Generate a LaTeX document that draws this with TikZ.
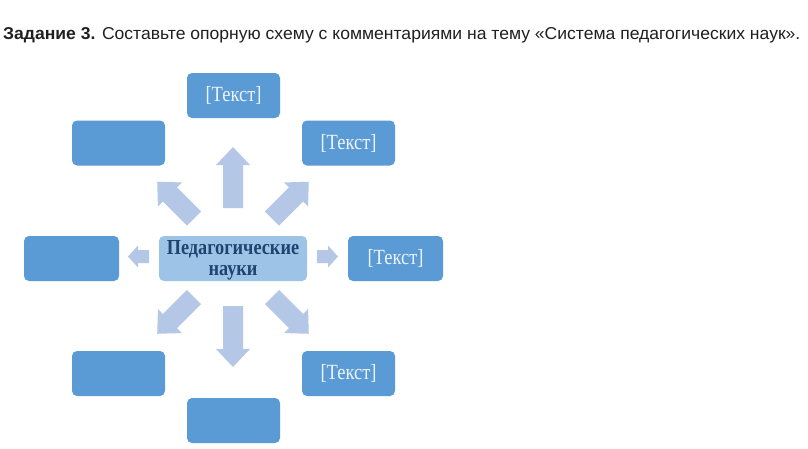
\documentclass[tikz,border=0pt]{standalone}
\usepackage{graphicx}
\usepackage{fontspec}
\setmainfont{Liberation Serif}
\newfontfamily\titlefont{Liberation Sans}
\definecolor{boxblue}{HTML}{5B9BD5}
\definecolor{centerblue}{HTML}{9DC3E6}
\definecolor{arrblue}{HTML}{B4C7E7}
\definecolor{centertext}{HTML}{1F4470}
\definecolor{boxtext}{HTML}{EEF4FB}
\definecolor{titlecol}{HTML}{202020}
\newcommand\blockarr[6]{%
  \fill[arrblue, shift={#1}, rotate=#2]
    (0pt,-#4/2) -- (#3-#6,-#4/2) -- (#3-#6,-#5/2) -- (#3,0pt)
    -- (#3-#6,#5/2) -- (#3-#6,#4/2) -- (0pt,#4/2) -- cycle;}
\newcommand\tallt[1]{\scalebox{1}[1.17]{#1}}
\begin{document}
\begin{tikzpicture}[x=1pt,y=-1pt,
  outbox/.style={fill=boxblue, rounded corners=5pt, minimum width=93pt, minimum height=45pt, inner sep=0pt,
    text=boxtext, font=\fontsize{18.5}{20}\selectfont},
  centerbox/.style={fill=centerblue, rounded corners=5pt, minimum width=148pt, minimum height=45pt, inner sep=0pt,
    text=centertext, font=\fontsize{18.3}{17.5}\selectfont\bfseries}]
\fill[white] (0,0) rectangle (808,448);
\useasboundingbox (0,0) rectangle (808,448);
\node[anchor=base west, inner sep=0pt, text=titlecol] (title) at (3,39)
  {\resizebox{797pt}{12pt}{\titlefont\textbf{Задание 3.} Составьте опорную схему с комментариями на тему «Система педагогических наук».}};
% boxes
\node[outbox] (top) at (233.5,95.5) {\tallt{[Текст]}};
\node[outbox] (ul) at (118.5,143) {};
\node[outbox] (ur) at (348.5,143) {\tallt{[Текст]}};
\node[outbox, minimum width=95pt] (l) at (71.5,258.5) {};
\node[centerbox] (c) at (233,258.5) {};
\node[text=centertext, font=\fontsize{18.3}{17.5}\selectfont\bfseries, inner sep=0pt] (ctext) at (233,261)
  {\tallt{\begin{tabular}{@{}c@{}}Педагогические\\науки\end{tabular}}};
\node[outbox, minimum width=95pt] (r) at (395.5,258.5) {\tallt{[Текст]}};
\node[outbox] (ll) at (118.5,373.5) {};
\node[outbox] (lr) at (348.5,373.5) {\tallt{[Текст]}};
\node[outbox] (b) at (233.5,420.5) {};
% block arrows
\blockarr{(233,208)}{90}{61pt}{20pt}{34pt}{18pt}
\blockarr{(233,306)}{-90}{61pt}{20pt}{34pt}{18pt}
\blockarr{(194,218.5)}{135}{52pt}{20pt}{34pt}{18pt}
\blockarr{(272,218.5)}{45}{52pt}{20pt}{34pt}{18pt}
\blockarr{(194,297)}{225}{52pt}{20pt}{34pt}{18pt}
\blockarr{(272,297)}{-45}{52pt}{20pt}{34pt}{18pt}
\blockarr{(149,256.5)}{180}{21pt}{13pt}{22pt}{10pt}
\blockarr{(317,256.5)}{0}{21pt}{13pt}{22pt}{10pt}
\end{tikzpicture}
\end{document}
